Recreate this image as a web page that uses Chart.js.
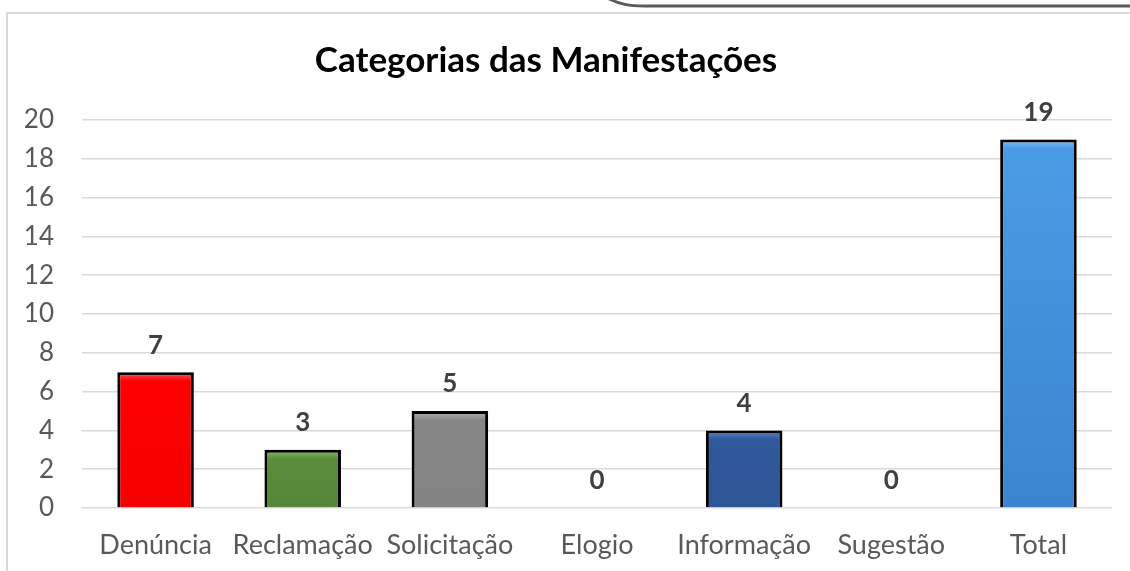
<!DOCTYPE html>
<html>
<head>
<meta charset="utf-8">
<script src="https://cdn.jsdelivr.net/npm/chart.js@4.4.1/dist/chart.umd.min.js"></script>
<style>
  html, body { margin: 0; padding: 0; background: #ffffff; }
  #wrap { width: 1130px; height: 571px; position: relative; }
</style>
</head>
<body>
<div id="wrap"><canvas id="c" width="1130" height="571"></canvas></div>
<script>
const chartTitle = 'Categorias das Manifestações';
const categories = ['Denúncia', 'Reclamação', 'Solicitação', 'Elogio', 'Informação', 'Sugestão', 'Total'];
const values = [7, 3, 5, 0, 4, 0, 19];
const yMin = 0;
const yMax = 20;
const yStep = 2;

// styles (kept separate from data)
const baseColors  = ['#FF0000', '#5A8C3A', '#878787', '#FFC000', '#30599C', '#A5A5A5', '#4A9BE6'];
const lightColors = ['#FF5A5A', '#8CC46A', '#B8B8B8', '#FFD966', '#5E88CC', '#C8C8C8', '#84C2F6'];
const bottomColors = ['#F50000', '#56873A', '#838383', '#FFC000', '#2E5596', '#A0A0A0', '#3A85CE'];

const FONT = 'Lato, "Open Sans", "DejaVu Sans", sans-serif';

const framePlugin = {
  id: 'frame',
  beforeDraw(chart) {
    const ctx = chart.ctx;
    ctx.save();
    ctx.fillStyle = '#ffffff';
    ctx.fillRect(0, 0, chart.width, chart.height);
    ctx.strokeStyle = '#D9D9D9';
    ctx.lineWidth = 2;
    ctx.beginPath();
    ctx.moveTo(7, chart.height);
    ctx.lineTo(7, 13);
    ctx.lineTo(chart.width, 13);
    ctx.stroke();
    ctx.strokeStyle = '#5A5A5A';
    ctx.lineWidth = 3;
    ctx.beginPath();
    ctx.moveTo(609, -1);
    ctx.bezierCurveTo(620, 4, 628, 6, 645, 6);
    ctx.lineTo(chart.width, 6);
    ctx.stroke();
    ctx.restore();
  },
  afterDraw(chart) {
    const ctx = chart.ctx;
    ctx.save();
    ctx.fillStyle = '#000000';
    ctx.font = 'bold 35px ' + FONT;
    ctx.textAlign = 'center';
    ctx.textBaseline = 'alphabetic';
    ctx.fillText(chartTitle, 546, 72);
    ctx.restore();
  }
};

const shadowPlugin = {
  id: 'barShadow',
  beforeDatasetDraw(chart) {
    const ctx = chart.ctx;
    ctx.save();
    ctx.shadowColor = 'rgba(0,0,0,0.22)';
    ctx.shadowBlur = 4;
    ctx.shadowOffsetX = 2;
    ctx.shadowOffsetY = 1;
  },
  afterDatasetDraw(chart) {
    chart.ctx.restore();
  }
};

const labelPlugin = {
  id: 'valueLabels',
  afterDatasetsDraw(chart) {
    const ctx = chart.ctx;
    const meta = chart.getDatasetMeta(0);
    ctx.save();
    ctx.fillStyle = '#404040';
    ctx.font = 'bold 26px ' + FONT;
    ctx.textAlign = 'center';
    ctx.textBaseline = 'middle';
    meta.data.forEach((el, i) => {
      ctx.fillText(String(values[i]), el.x, el.y - 27);
    });
    ctx.restore();
  }
};

function barFill(context) {
  const chart = context.chart;
  const i = context.dataIndex;
  if (!chart.chartArea) return baseColors[i];
  const ys = chart.scales.y;
  const top = ys.getPixelForValue(values[i]);
  const bottom = ys.getPixelForValue(0);
  const ctx = chart.ctx;
  const h = Math.max(bottom - top, 1);
  const g = ctx.createLinearGradient(0, top, 0, bottom);
  g.addColorStop(0, lightColors[i]);
  g.addColorStop(Math.min(9 / h, 0.5), baseColors[i]);
  g.addColorStop(1, bottomColors[i]);
  return g;
}

new Chart(document.getElementById('c'), {
  type: 'bar',
  data: {
    labels: categories,
    datasets: [{
      data: values,
      backgroundColor: barFill,
      borderColor: '#000000',
      borderWidth: (ctx) => (values[ctx.dataIndex] === 0 ? 0 : 3),
      borderSkipped: 'start',
      barPercentage: 0.52,
      categoryPercentage: 1.0
    }]
  },
  options: {
    responsive: false,
    animation: false,
    devicePixelRatio: 1,
    layout: { padding: { top: 120, right: 18, bottom: 0, left: 0 } },
    plugins: {
      legend: { display: false },
      title: { display: false },
      tooltip: { enabled: false }
    },
    scales: {
      x: {
        grid: { display: false, drawTicks: false },
        border: { display: false },
        ticks: {
          color: '#595959',
          font: { family: FONT, size: 27 },
          padding: 21,
          maxRotation: 0,
          autoSkip: false
        },
        afterFit(scale) { scale.height = 63; }
      },
      y: {
        min: yMin,
        max: yMax,
        grid: { color: '#D9D9D9', lineWidth: 1.5, drawTicks: false },
        border: { display: false },
        ticks: {
          stepSize: yStep,
          color: '#595959',
          font: { family: FONT, size: 26 },
          padding: 28
        },
        afterFit(scale) { scale.width = 82; }
      }
    }
  },
  plugins: [framePlugin, shadowPlugin, labelPlugin]
});
</script>
</body>
</html>
